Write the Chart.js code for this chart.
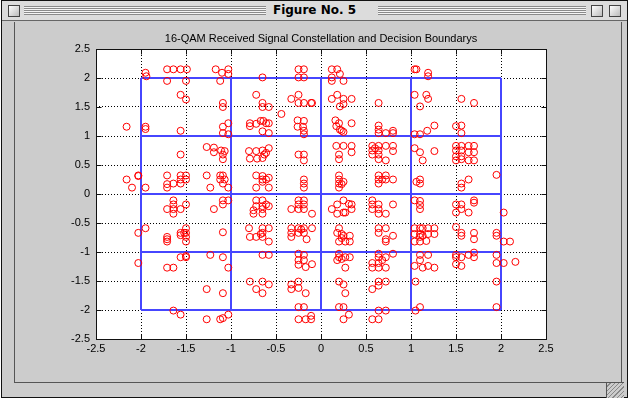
<!DOCTYPE html>
<html><head><meta charset="utf-8">
<script src="https://cdn.jsdelivr.net/npm/chart.js@4/dist/chart.umd.min.js"></script>
<style>
html,body{margin:0;padding:0;background:#fff;width:637px;height:399px;overflow:hidden}
#win{position:absolute;left:1px;top:0;width:627px;height:398px;background:#cccccc;border:1px solid #111;box-sizing:border-box}
#tb{position:absolute;left:0;top:0;width:625px;height:19px;background:#dcdcdc;border-bottom:1px solid #666}
.str{position:absolute;top:5px;height:9px;background:repeating-linear-gradient(to bottom,#8a8a8a 0 1px,#f4f4f4 1px 2px)}
#ttl{position:absolute;left:0;width:625px;top:2px;text-align:center;font:bold 12px "DejaVu Sans",sans-serif;color:#000;line-height:15px}
#ttl span{background:#dcdcdc;padding:0 5px}
.box{position:absolute;top:4px;width:10px;height:10px;border:1px solid #444;background:linear-gradient(135deg,#fff,#bbb)}
#inner{position:absolute;left:12px;top:21px;width:608px;height:361px;border-left:1px solid #555;border-right:1px solid #555;border-bottom:1px solid #555;box-sizing:border-box}
#grip{position:absolute;left:604px;top:381px;width:17px;height:15px;border-left:1px solid #555;border-top:1px solid #555;background:repeating-linear-gradient(135deg,#ccc 0 2px,#888 2px 3px)}
canvas{position:absolute;left:0;top:0}
</style></head>
<body>
<div id="win">
  <div id="tb">
    <div class="str" style="left:22px;width:242px"></div>
    <div class="str" style="left:376px;width:208px"></div>
    <div id="ttl"><span>Figure No. 5</span></div>
    <div class="box" style="left:6px"></div>
    <div class="box" style="left:589px"></div>
    <div class="box" style="left:607px"></div>
  </div>
  <div id="inner"></div>
  <div id="grip"></div>
</div>
<canvas id="c" width="637" height="399"></canvas>
<script>
// Axis range and tick spacing
const axisMin = -2.5, axisMax = 2.5, tickStep = 0.5;
// Decision boundary levels and their extent
const boundaryLevels = [-2, -1, 0, 1, 2];
const boundaryExtent = [-2, 2];
const chartTitle = '16-QAM Received Signal Constellation and Decision Boundarys';

// Received signal points [in-phase, quadrature], grouped by band of y
const ptsTop = [
[-1.95,2.09],[-1.94,2.03],[-1.71,2.15],[-1.64,2.15],[-1.56,2.15],[-1.49,2.15],[-1.71,1.95],[-1.50,1.95],
[-1.17,2.15],[-1.10,2.09],[-1.03,2.15],[-1.03,2.07],[-1.12,1.95],[-0.65,2.01],
[-0.25,2.15],[-0.19,2.15],[-0.25,2.01],[-0.19,2.01],
[0.12,2.15],[0.18,2.15],[0.21,2.07],[0.12,2.01],[0.12,1.95],[0.25,1.95],
[1.04,2.15],[1.06,2.15],[1.19,2.09],[1.19,2.03]
];
const ptsBand1 = [
[-1.56,1.71],[-1.50,1.63],[-1.09,1.57],[-1.09,1.50],[-0.72,1.71],[-0.65,1.57],[-0.65,1.50],[-0.58,1.50],[-0.44,1.38],
[-0.25,1.71],[-0.33,1.64],[-0.25,1.57],[-0.19,1.57],[-0.11,1.57],[-0.10,1.57],
[-2.16,1.16],[-1.95,1.16],[-1.95,1.12],[-1.56,1.09],[-1.09,1.16],[-1.03,1.22],[-1.09,1.05],[-1.03,1.03],
[-0.79,1.22],[-0.79,1.17],[-0.72,1.21],[-0.67,1.26],[-0.64,1.26],[-0.61,1.22],[-0.58,1.22],[-0.65,1.08],[-0.58,1.05],
[-0.26,1.27],[-0.19,1.26],[-0.26,1.16],[-0.20,1.16],[-0.19,1.09],[-0.19,1.03],
[0.12,1.64],[0.18,1.71],[0.25,1.64],[0.25,1.55],[0.34,1.64],[0.21,1.51],[0.64,1.57],
[1.04,1.71],[1.17,1.71],[1.19,1.64],[1.10,1.51],[1.56,1.64],[1.70,1.57],
[0.16,1.27],[0.20,1.22],[0.17,1.17],[0.34,1.22],[0.21,1.11],[0.25,1.07],[0.23,1.09],
[0.64,1.18],[0.64,1.11],[0.64,1.05],[0.72,1.05],[0.80,1.09],[0.80,1.05],
[1.04,1.03],[1.10,1.03],[1.18,1.09],[1.26,1.18],[1.50,1.17],[1.56,1.18],[1.56,1.05]
];
const ptsBand0 = [
[-1.27,0.81],[-1.19,0.80],[-1.19,0.72],[-1.11,0.75],[-1.09,0.68],[-1.09,0.60],[-1.07,0.74],[-1.56,0.68],
[-0.80,0.74],[-0.72,0.74],[-0.65,0.75],[-0.58,0.79],[-0.79,0.61],[-0.71,0.61],[-0.65,0.62],[-0.63,0.68],[-0.61,0.71],
[-0.25,0.68],[-0.19,0.68],[-0.19,0.58],
[-2.16,0.25],[-2.10,0.11],[-2.03,0.32],[-2.03,0.31],[-1.95,0.11],
[-1.71,0.32],[-1.71,0.17],[-1.71,0.11],[-1.64,0.18],[-1.56,0.32],[-1.56,0.25],[-1.50,0.32],[-1.56,0.18],[-1.50,0.25],
[-1.27,0.32],[-1.23,0.11],[-1.12,0.32],[-1.12,0.25],[-1.09,0.32],[-1.07,0.25],[-1.09,0.18],[-1.03,0.11],
[-0.72,0.32],[-0.72,0.11],[-0.65,0.31],[-0.65,0.25],[-0.61,0.25],[-0.58,0.28],[-0.58,0.11],[-0.65,0.21],
[-0.19,0.25],[-0.19,0.18],[-0.19,0.11],
[0.17,0.83],[0.25,0.83],[0.34,0.83],[0.34,0.72],[0.20,0.68],[0.20,0.60],
[0.57,0.83],[0.57,0.75],[0.64,0.83],[0.64,0.75],[0.72,0.83],[0.80,0.83],[0.80,0.74],[0.57,0.68],[0.64,0.68],[0.64,0.60],[0.72,0.58],[0.60,0.79],
[1.04,0.79],[1.10,0.72],[1.26,0.74],[1.13,0.58],
[1.50,0.83],[1.50,0.75],[1.56,0.83],[1.56,0.75],[1.64,0.83],[1.70,0.83],[1.64,0.72],[1.70,0.72],[1.50,0.65],[1.56,0.65],[1.50,0.58],[1.56,0.60],[1.64,0.58],[1.70,0.58],
[0.20,0.32],[0.20,0.25],[0.20,0.18],[0.20,0.11],[0.25,0.21],[0.23,0.17],
[0.64,0.32],[0.64,0.25],[0.64,0.18],[0.72,0.32],[0.72,0.25],[0.80,0.25],[0.68,0.25],
[1.06,0.21],[1.10,0.25],[1.10,0.18],[1.56,0.18],[1.56,0.11],[1.64,0.25],[1.95,0.33]
];
const ptsBandM1 = [
[-1.64,-0.11],[-1.64,-0.18],[-1.71,-0.26],[-1.64,-0.26],[-1.64,-0.34],[-1.56,-0.26],[-1.50,-0.18],
[-1.19,-0.26],[-1.09,-0.11],[-1.09,-0.18],[-1.03,-0.11],
[-0.72,-0.11],[-0.65,-0.11],[-0.72,-0.21],[-0.65,-0.21],[-0.61,-0.18],[-0.58,-0.21],[-0.75,-0.28],[-0.75,-0.34],[-0.65,-0.26],[-0.65,-0.34],
[-0.25,-0.11],[-0.19,-0.11],[-0.25,-0.18],[-0.19,-0.18],[-0.33,-0.26],[-0.25,-0.26],[-0.19,-0.26],[-0.10,-0.34],
[-2.03,-0.67],[-1.95,-0.59],[-1.71,-0.74],[-1.71,-0.78],[-1.71,-0.82],[-1.56,-0.67],[-1.56,-0.71],[-1.50,-0.59],[-1.50,-0.67],[-1.52,-0.67],[-1.50,-0.74],[-1.50,-0.82],
[-1.09,-0.66],
[-0.80,-0.59],[-0.79,-0.74],[-0.72,-0.74],[-0.65,-0.59],[-0.58,-0.59],[-0.65,-0.67],[-0.65,-0.74],[-0.58,-0.82],[-0.67,-0.69],
[-0.33,-0.59],[-0.25,-0.59],[-0.19,-0.59],[-0.10,-0.59],[-0.33,-0.67],[-0.33,-0.74],[-0.25,-0.67],[-0.19,-0.67],[-0.16,-0.78],[-0.22,-0.61],
[0.25,-0.11],[0.18,-0.18],[0.12,-0.26],[0.18,-0.34],[0.25,-0.32],[0.27,-0.32],[0.34,-0.18],[0.34,-0.26],[0.31,-0.17],
[0.57,-0.11],[0.57,-0.18],[0.64,-0.18],[0.57,-0.26],[0.64,-0.26],[0.64,-0.34],[0.72,-0.34],[0.80,-0.18],
[1.04,-0.11],[1.10,-0.12],[1.10,-0.19],[1.10,-0.26],
[1.50,-0.18],[1.56,-0.18],[1.56,-0.26],[1.50,-0.32],[1.64,-0.32],[1.70,-0.11],[1.70,-0.15],[2.03,-0.32],
[0.20,-0.59],[0.18,-0.67],[0.23,-0.69],[0.25,-0.72],[0.20,-0.82],[0.27,-0.82],[0.32,-0.82],[0.32,-0.72],[0.23,-0.76],
[0.64,-0.59],[0.72,-0.59],[0.64,-0.67],[0.80,-0.72],[0.72,-0.78],[0.72,-0.82],
[1.04,-0.59],[1.10,-0.59],[1.13,-0.59],[1.19,-0.59],[1.26,-0.59],[1.04,-0.69],[1.10,-0.69],[1.19,-0.69],[1.26,-0.69],[1.10,-0.74],[1.13,-0.72],[1.04,-0.82],[1.10,-0.82],[1.17,-0.81],
[1.50,-0.57],[1.56,-0.67],[1.56,-0.72],[1.70,-0.67],[1.70,-0.78],[1.95,-0.67],[1.95,-0.72],[2.03,-0.82],[2.10,-0.82]
];
const ptsBandM2 = [
[-2.03,-1.19],[-1.56,-1.09],[-1.50,-1.07],[-1.50,-1.09],[-1.71,-1.27],[-1.64,-1.27],
[-1.23,-1.05],[-1.09,-1.09],[-1.03,-1.27],
[-0.65,-1.05],[-0.58,-1.05],
[-0.25,-1.03],[-0.19,-1.05],[-0.25,-1.14],[-0.19,-1.14],[-0.25,-1.22],[-0.17,-1.26],[-0.10,-1.21],
[-0.79,-1.51],[-0.65,-1.51],[-0.58,-1.56],[-0.72,-1.64],[-0.65,-1.71],
[-0.33,-1.56],[-0.25,-1.51],[-0.33,-1.64],[-0.25,-1.62],[-0.17,-1.71],
[-1.27,-1.64],[-1.09,-1.71],
[-0.25,-1.95],[-0.19,-1.95],
[0.20,-1.03],[0.20,-1.09],[0.18,-1.14],[0.27,-1.09],[0.32,-1.09],[0.27,-1.27],[0.23,-1.12],
[0.64,-1.03],[0.64,-1.09],[0.57,-1.19],[0.64,-1.19],[0.57,-1.27],[0.64,-1.27],[0.72,-1.09],[0.72,-1.27],[0.80,-1.03],[0.68,-1.14],
[1.10,-1.05],[1.19,-1.05],[1.10,-1.14],[1.04,-1.24],[1.13,-1.27],[1.19,-1.24],[1.26,-1.27],
[1.50,-1.05],[1.50,-1.09],[1.56,-1.09],[1.50,-1.21],[1.56,-1.24],[1.64,-1.05],[1.70,-1.01],[1.70,-1.09],
[1.95,-1.05],[1.95,-1.19],[2.03,-1.19],[2.16,-1.17],
[0.20,-1.51],[0.25,-1.56],[0.27,-1.71],
[0.64,-1.51],[0.72,-1.51],[0.64,-1.58],[0.57,-1.64],
[1.05,-1.51],[1.95,-1.51],
[0.20,-1.95],[0.25,-1.95],[1.95,-1.95]
];
const ptsBottom = [
[-1.64,-2.01],[-1.56,-2.08],[-1.27,-2.16],[-1.12,-2.16],[-1.09,-2.14],[-1.03,-2.08],
[-0.25,-2.16],[-0.17,-2.16],[-0.11,-2.10],[-0.11,-2.16],
[0.25,-2.16],[0.31,-2.08],[0.57,-2.16],[0.64,-2.01],[0.64,-2.16],[0.72,-2.01],[1.05,-2.01],[1.10,-1.95]
];

const received = [].concat(ptsTop, ptsBand1, ptsBand0, ptsBandM1, ptsBandM2, ptsBottom)
  .map(p => ({x: p[0], y: p[1]}));

const boundaryDatasets = [];
boundaryLevels.forEach(v => {
  boundaryDatasets.push({type:'line', data:[{x:v,y:boundaryExtent[0]},{x:v,y:boundaryExtent[1]}]});
  boundaryDatasets.push({type:'line', data:[{x:boundaryExtent[0],y:v},{x:boundaryExtent[1],y:v}]});
});
boundaryDatasets.forEach(d => Object.assign(d, {
  borderColor:'rgb(70,70,255)', borderWidth:2, pointRadius:0, showLine:true, fill:false, tension:0
}));

const framePlugin = {
  id: 'frame',
  beforeDraw(chart) {
    const a = chart.chartArea, c = chart.ctx;
    c.save(); c.fillStyle = '#fff';
    c.fillRect(a.left, a.top, a.right - a.left, a.bottom - a.top);
    c.restore();
  },
  afterDraw(chart) {
    const a = chart.chartArea, c = chart.ctx, sx = chart.scales.x, sy = chart.scales.y;
    const L = Math.round(a.left) + 0.5, R = Math.round(a.right) + 0.5;
    const T = Math.round(a.top) + 0.5, B = Math.round(a.bottom) + 0.5;
    c.save();
    c.strokeStyle = '#111'; c.lineWidth = 1;
    c.strokeRect(L, T, R - L, B - T);
    c.beginPath();
    sx.ticks.forEach(t => {
      const p = Math.round(sx.getPixelForValue(t.value)) + 0.5;
      c.moveTo(p, B); c.lineTo(p, B - 5); c.moveTo(p, T); c.lineTo(p, T + 5);
    });
    sy.ticks.forEach(t => {
      const p = Math.round(sy.getPixelForValue(t.value)) + 0.5;
      c.moveTo(L, p); c.lineTo(L + 5, p); c.moveTo(R, p); c.lineTo(R - 5, p);
    });
    c.stroke();
    c.restore();
  }
};

const tickFont = {family: '"Liberation Sans", Arial, sans-serif', size: 11};
function axisCfg(isX) {
  return {
    type: 'linear', min: axisMin, max: axisMax,
    afterFit: s => { if (isX) s.height = 20; else s.width = 40; },
    ticks: {stepSize: tickStep, color: '#000', font: tickFont, padding: isX ? 3 : 6,
      maxRotation: 0, autoSkip: false, callback: v => String(Math.round(v * 10) / 10)},
    grid: {color: '#000', lineWidth: 1, drawTicks: false},
    border: {display: false, dash: [1, 2]}
  };
}

new Chart(document.getElementById('c'), {
  type: 'scatter',
  data: {
    datasets: [{
      data: received, pointStyle: 'circle', pointRadius: 3.5, pointHoverRadius: 3.5,
      borderColor: '#ff0000', backgroundColor: 'rgba(0,0,0,0)', borderWidth: 1
    }].concat(boundaryDatasets)
  },
  options: {
    responsive: false, animation: false, events: [],
    layout: {padding: {left: 56, right: 91, top: 28, bottom: 40}},
    plugins: {
      legend: {display: false}, tooltip: {enabled: false},
      title: {display: true, text: chartTitle, fullSize: false, color: '#000',
        font: {family: '"Liberation Sans", Arial, sans-serif', size: 11, weight: 'normal', lineHeight: 1},
        padding: {top: 5, bottom: 5}}
    },
    scales: {x: axisCfg(true), y: axisCfg(false)}
  },
  plugins: [framePlugin]
});
</script>
</body></html>
